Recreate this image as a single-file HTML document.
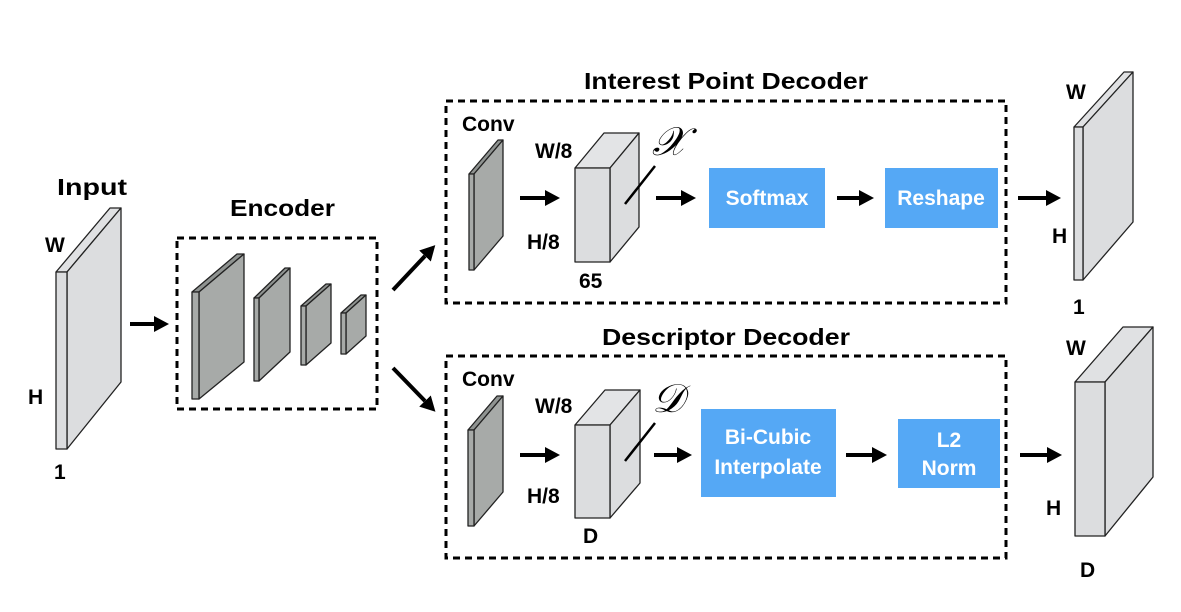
<!DOCTYPE html>
<html><head><meta charset="utf-8"><style>
html,body{margin:0;padding:0;background:#fff;}
svg{display:block;}
text{font-family:"Liberation Sans",sans-serif;font-weight:bold;fill:#000;}
</style></head><body>
<svg width="1181" height="612" viewBox="0 0 1181 612" xmlns="http://www.w3.org/2000/svg">
<defs>
<marker id="ah" markerWidth="16" markerHeight="18" refX="0" refY="9" orient="auto" markerUnits="userSpaceOnUse">
<path d="M0,1 L15,9 L0,17 z" fill="#000"/></marker>
</defs>
<g stroke="#222" stroke-width="1.3" stroke-linejoin="round">
<polygon points="56,272 67,272 121,208 110,208" fill="#e0e1e3"/>
<polygon points="67,272 121,208 121,382 67,449" fill="#dcdddf"/>
<rect x="56" y="272" width="11" height="177" fill="#dcdddf"/>
<polygon points="192,292 199,292 244,254 237,254" fill="#8f9391"/>
<polygon points="199,292 244,254 244,362 199,399" fill="#a7aaa8"/>
<rect x="192" y="292" width="7" height="107" fill="#a7aaa8"/>
<polygon points="254,298 259,298 290,268 285,268" fill="#8f9391"/>
<polygon points="259,298 290,268 290,352 259,381" fill="#a7aaa8"/>
<rect x="254" y="298" width="5" height="83" fill="#a7aaa8"/>
<polygon points="301,306 306,306 331,284 326,284" fill="#8f9391"/>
<polygon points="306,306 331,284 331,343 306,365" fill="#a7aaa8"/>
<rect x="301" y="306" width="5" height="59" fill="#a7aaa8"/>
<polygon points="341,313 346,313 366,295 361,295" fill="#8f9391"/>
<polygon points="346,313 366,295 366,336 346,354" fill="#a7aaa8"/>
<rect x="341" y="313" width="5" height="41" fill="#a7aaa8"/>
<polygon points="469,174 474,174 503,140 498,140" fill="#8f9391"/>
<polygon points="474,174 503,140 503,236 474,270" fill="#a7aaa8"/>
<rect x="469" y="174" width="5" height="96" fill="#a7aaa8"/>
<polygon points="575,168 610,168 639,133 604,133" fill="#e3e4e6"/>
<polygon points="610,168 639,133 639,227 610,262" fill="#dcdddf"/>
<rect x="575" y="168" width="35" height="94" fill="#dcdddf"/>
<polygon points="468,430 474,430 503,396 497,396" fill="#8f9391"/>
<polygon points="474,430 503,396 503,492 474,526" fill="#a7aaa8"/>
<rect x="468" y="430" width="6" height="96" fill="#a7aaa8"/>
<polygon points="575,425 610,425 640,390 605,390" fill="#e3e4e6"/>
<polygon points="610,425 640,390 640,483 610,518" fill="#dcdddf"/>
<rect x="575" y="425" width="35" height="93" fill="#dcdddf"/>
<polygon points="1074,127 1083,127 1133,72 1124,72" fill="#e0e1e3"/>
<polygon points="1083,127 1133,72 1133,222 1083,280" fill="#dcdddf"/>
<rect x="1074" y="127" width="9" height="153" fill="#dcdddf"/>
<polygon points="1075,382 1105,382 1153,327 1123,327" fill="#e0e1e3"/>
<polygon points="1105,382 1153,327 1153,477 1105,536" fill="#dcdddf"/>
<rect x="1075" y="382" width="30" height="154" fill="#dcdddf"/>
</g>
<g fill="none" stroke="#000" stroke-width="3" stroke-dasharray="7,5">
<rect x="177" y="238" width="200" height="171"/>
<rect x="446" y="101" width="560" height="202"/>
<rect x="446" y="356" width="560" height="202"/>
</g>
<g stroke="#000" stroke-width="2.5">
<line x1="625" y1="204" x2="655" y2="166"/>
<line x1="625" y1="461" x2="655" y2="423"/>
</g>
<g stroke="#000" stroke-width="4" marker-end="url(#ah)">
<line x1="130" y1="324" x2="154" y2="324"/>
<line x1="393" y1="290" x2="425" y2="256"/>
<line x1="393" y1="368" x2="425" y2="401"/>
<line x1="520" y1="198" x2="545" y2="198"/>
<line x1="656" y1="198" x2="681" y2="198"/>
<line x1="837" y1="198" x2="859" y2="198"/>
<line x1="1018" y1="198" x2="1046" y2="198"/>
<line x1="520" y1="455" x2="545" y2="455"/>
<line x1="654" y1="455" x2="677" y2="455"/>
<line x1="846" y1="455" x2="872" y2="455"/>
<line x1="1020" y1="455" x2="1047" y2="455"/>
</g>
<g fill="#55a8f5">
<rect x="709" y="168" width="116" height="60"/>
<rect x="885" y="168" width="113" height="60"/>
<rect x="701" y="409" width="135" height="88"/>
<rect x="898" y="419" width="102" height="69"/>
</g>
<g font-size="21" text-anchor="middle">
<text x="767" y="205" style="fill:#fff">Softmax</text>
<text x="941" y="205" style="fill:#fff">Reshape</text>
<text x="768" y="444" style="fill:#fff">Bi-Cubic</text>
<text x="768" y="474" style="fill:#fff">Interpolate</text>
<text x="949" y="447" style="fill:#fff">L2</text>
<text x="949" y="475" style="fill:#fff">Norm</text>
</g>
<g font-size="23">
<text x="584" y="89" textLength="284" lengthAdjust="spacingAndGlyphs">Interest Point Decoder</text>
<text x="602" y="345" textLength="248" lengthAdjust="spacingAndGlyphs">Descriptor Decoder</text>
<text x="57" y="195" textLength="70" lengthAdjust="spacingAndGlyphs">Input</text>
<text x="230" y="216" textLength="105" lengthAdjust="spacingAndGlyphs">Encoder</text>
</g>
<g font-size="21">
<text x="45" y="252">W</text>
<text x="28" y="404">H</text>
<text x="54" y="479">1</text>
<text x="462" y="131">Conv</text>
<text x="535" y="158">W/8</text>
<text x="527" y="249">H/8</text>
<text x="579" y="288">65</text>
<text x="462" y="386">Conv</text>
<text x="535" y="413">W/8</text>
<text x="527" y="503">H/8</text>
<text x="583" y="543">D</text>
<text x="1066" y="99">W</text>
<text x="1052" y="243">H</text>
<text x="1073" y="314">1</text>
<text x="1066" y="355">W</text>
<text x="1046" y="515">H</text>
<text x="1080" y="577">D</text>
</g>
<text x="652" y="155" font-size="40" style="font-family:'Liberation Serif',serif;font-style:italic;font-weight:normal">𝒳</text>
<text x="652" y="412" font-size="40" style="font-family:'Liberation Serif',serif;font-style:italic;font-weight:normal">𝒟</text>
</svg>
</body></html>
